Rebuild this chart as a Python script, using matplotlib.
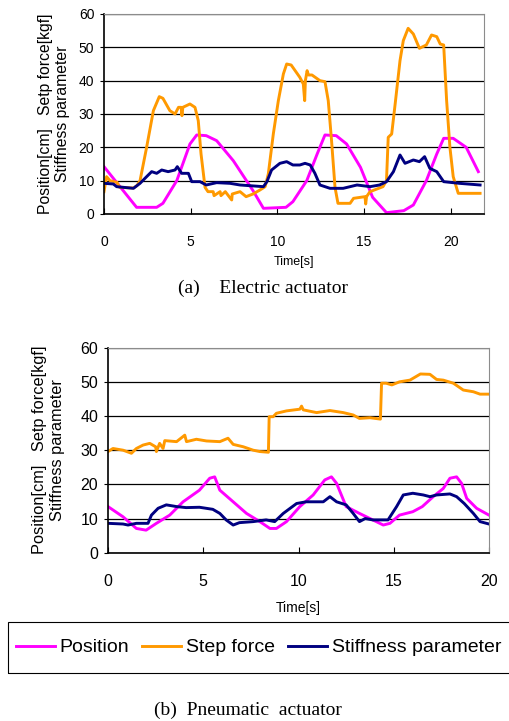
import matplotlib.pyplot as plt
from matplotlib.patches import Rectangle

# (a) Electric actuator
ea_pos_t = [0, 1.88, 3.04, 3.4, 4.2, 4.96, 5.35, 5.9, 6.5, 7.46, 8.6, 9.2, 10.5, 10.9, 11.7,
            12.3, 12.75, 13.4, 14.0, 14.8, 15.5, 16.3, 17.3, 17.85, 18.6, 19.2, 19.6, 20.15,
            20.9, 21.6]
ea_pos_v = [14.2, 2.0, 2.0, 3.2, 10, 21, 23.7, 23.5, 22, 16, 7, 1.7, 2.0, 3.7, 10,
            18, 23.7, 23.5, 21, 14, 5, 0.4, 1.0, 2.7, 10, 18, 22.7, 22.7,
            20, 12.7]

ea_force_t = [0, 0.15, 0.35, 0.75, 0.9, 1.7, 1.9, 2.08, 2.46, 2.85, 3.19, 3.4, 3.8, 4.1, 4.3,
              4.45, 4.5, 4.55, 4.96, 5.25, 5.44, 5.6, 5.83, 6.0, 6.3, 6.35, 6.7, 6.75, 7.0,
              7.37, 7.4, 7.85, 8.2, 8.6, 9.0, 9.3, 9.48, 9.77, 10.06, 10.35, 10.54, 10.8,
              11.3, 11.5, 11.58, 11.62, 11.72, 11.8, 12.0, 12.46, 12.75, 12.94, 13.13,
              13.33, 13.5, 14.2, 14.4, 15.06, 15.1, 15.15, 15.35, 16.1, 16.3, 16.4, 16.6,
              16.8, 17.08, 17.27, 17.55, 17.85, 18.2, 18.6, 18.9, 19.2, 19.4, 19.6, 19.77,
              19.96, 20.15, 20.44, 21.7]
ea_force_v = [6.7, 11.2, 10, 9.5, 8.0, 7.8, 8.5, 10, 20, 31, 35.2, 34.7, 31, 30, 32,
              32, 29.5, 32, 33, 32, 28, 18, 8, 6.7, 6.7, 5.5, 6.7, 5.5, 6.7,
              4.2, 6.0, 6.7, 5.2, 6, 7.2, 8.2, 12, 24, 34, 42, 45, 44.7,
              41, 39, 34, 40, 43, 41.7, 41.7, 40, 39.7, 34, 22,
              8, 3.2, 3.2, 4.7, 5.2, 3, 5.2, 6.7, 8.2, 10, 23, 24,
              33, 46, 52, 55.7, 54, 49.7, 50.7, 53.7, 53.2, 51, 50.7, 34,
              20, 11.2, 6.2, 6.2]

ea_stiff_t = [0, 0.54, 0.73, 1.7, 2.08, 2.46, 2.75, 3.04, 3.33, 3.7, 4.1, 4.23, 4.48, 4.87,
              5.06, 5.54, 5.9, 6.5, 7.27, 7.85, 9.2, 9.4, 9.67, 10.15, 10.54, 10.9, 11.3,
              11.6, 11.9, 12.17, 12.46, 13.04, 13.8, 14.6, 15.35, 15.9, 16.3, 16.7, 17.08,
              17.37, 17.85, 18.2, 18.5, 18.8, 19.2, 19.6, 20.5, 21.7]
ea_stiff_v = [9.2, 9.0, 8.2, 7.7, 9.2, 11.2, 12.7, 12.2, 13.2, 12.7, 13.2, 14.2, 12.2, 12.2,
              9.7, 9.7, 8.7, 9.4, 9.2, 8.7, 8.2, 9.7, 13.2, 15.2, 15.7, 14.7, 14.7,
              15.2, 14.7, 12.2, 8.7, 7.7, 7.7, 8.7, 8.2, 8.7, 9.7, 12.7, 17.7,
              15.2, 16.2, 15.7, 17.2, 13.7, 12.7, 9.7, 9.2, 8.7]

# (b) Pneumatic actuator
pa_pos_t = [0, 0.79, 1.49, 2.0, 2.54, 3.24, 3.94, 4.8, 5.34, 5.6, 5.87, 6.57, 7.27, 7.97,
            8.5, 8.84, 9.37, 10.07, 10.77, 11.38, 11.73, 12.0, 12.5, 13.2, 13.9, 14.45,
            14.8, 15.3, 16.0, 16.5, 17.07, 17.6, 17.95, 18.3, 18.56, 18.83, 19.35, 20.0]
pa_pos_v = [13.5, 10.5, 7.1, 6.6, 8.6, 11, 14.9, 18.3, 21.8, 22.2, 18.3, 14.9, 11.5, 9.1,
            7.1, 7.1, 9.1, 13.5, 16.9, 21.3, 22.2, 20.3, 13.5, 11.5, 9.6, 8.1,
            8.6, 11, 12, 13.5, 16.4, 18.8, 21.8, 22.2, 20.3, 15.9, 13, 11]

pa_force_t = [0, 0.26, 0.79, 1.23, 1.49, 1.84, 2.19, 2.5, 2.54, 2.71, 2.89, 2.98, 3.6, 4.03,
              4.12, 4.64, 5.17, 5.87, 6.3, 6.57, 7.1, 7.62, 7.97, 8.42, 8.46, 8.67, 8.84,
              9.37, 10.07, 10.16, 10.25, 10.95, 11.65, 12.35, 12.87, 13.2, 13.75, 14.3,
              14.36, 14.6, 14.9, 15.3, 15.85, 16.4, 16.9, 17.25, 17.6, 18.13, 18.65,
              19.18, 19.53, 20.0]
pa_force_v = [29.6, 30.5, 30, 29.1, 30.5, 31.5, 32, 31, 29.6, 32, 30.5, 32.8, 32.5, 34.4,
              32.5, 33.2, 32.7, 32.5, 33.5, 31.7, 31, 30, 29.6, 29.4, 39.8, 39.8, 40.8,
              41.5, 42, 42.9, 41.8, 41, 41.6, 41, 40.3, 39.3, 39.5, 39.1,
              49.6, 49.6, 49.1, 50, 50.5, 52.3, 52.2, 50.7, 50.5, 49.6, 47.6,
              47.1, 46.4, 46.4]

pa_stiff_t = [0, 0.79, 1.05, 1.49, 2.1, 2.28, 2.63, 3.06, 3.6, 4.1, 4.8, 5.5, 5.87, 6.2,
              6.57, 6.9, 7.62, 8.3, 8.75, 9.2, 9.9, 10.4, 11.3, 11.65, 12.0, 12.5, 12.87,
              13.2, 13.5, 13.9, 14.7, 15.15, 15.5, 16.0, 16.55, 16.9, 17.25, 17.95, 18.3,
              18.7, 19.18, 19.53, 20.0]
pa_stiff_v = [8.6, 8.4, 8.1, 8.6, 8.6, 11, 13, 14, 13.5, 13.2, 13.3, 12.7, 11.5, 9.6,
              8.1, 8.8, 9.1, 9.6, 9.1, 11.5, 14.4, 14.9, 14.9, 16.4, 14.9, 14, 11.5,
              9.1, 10, 9.6, 9.6, 13.5, 16.9, 17.4, 16.9, 16.4, 16.9, 17.2, 16.4,
              14.4, 11.5, 9.1, 8.4]

MAGENTA = '#ff00ff'
ORANGE = '#ff9900'
NAVY = '#000080'
LW = 2.1
ylabel = 'Position[cm]   Setp force[kgf]\nStiffness parameter'

plt.rcParams['font.family'] = ['Liberation Sans', 'DejaVu Sans']

fig = plt.figure(figsize=(5.09, 7.21), dpi=100)


def style_axes(ax, xmax, tick_size, label_size, ylab_size, ylab_sp, ylab_x, xlab_y):
    ax.set_xlim(0, xmax)
    ax.set_ylim(0, 60)
    ax.set_xticks([0, 5, 10, 15, 20])
    ax.set_yticks(range(0, 61, 10))
    ax.grid(axis='y', color='black', linewidth=0.9)
    ax.set_axisbelow(True)
    for s in ['top', 'right']:
        ax.spines[s].set_color('#8c8c8c')
    for s in ['left', 'bottom']:
        ax.spines[s].set_color('black')
        ax.spines[s].set_linewidth(1.2)
    ax.tick_params(axis='y', direction='out', length=3, labelsize=tick_size, pad=4)
    ax.tick_params(axis='x', direction='in', length=4, labelsize=tick_size, pad=15)
    ax.set_ylabel(ylabel, fontsize=ylab_size, va='center', ha='center', linespacing=ylab_sp)
    ax.yaxis.set_label_coords(ylab_x, 0.5)
    ax.set_xlabel('Time[s]', fontsize=label_size)
    ax.xaxis.set_label_coords(0.5, xlab_y)


ax1 = fig.add_axes([0.2043, 0.7032, 0.7467, 0.2774])
ax1.plot(ea_pos_t, ea_pos_v, color=MAGENTA, lw=LW)
ax1.plot(ea_force_t, ea_force_v, color=ORANGE, lw=LW)
ax1.plot(ea_stiff_t, ea_stiff_v, color=NAVY, lw=LW)
style_axes(ax1, 21.93, 10, 9, 11.3, 1.15, -0.132, -0.21)

ax2 = fig.add_axes([0.2122, 0.2334, 0.7485, 0.2844])
ax2.plot(pa_pos_t, pa_pos_v, color=MAGENTA, lw=LW, label='Position')
ax2.plot(pa_force_t, pa_force_v, color=ORANGE, lw=LW, label='Step force')
ax2.plot(pa_stiff_t, pa_stiff_v, color=NAVY, lw=LW, label='Stiffness parameter')
style_axes(ax2, 20, 11.5, 10, 11.8, 1.22, -0.157, -0.235)

leg = fig.legend(loc='center left', bbox_to_anchor=(8 / 509, 1 - 647.5 / 721), ncol=3,
                 fontsize=14, frameon=False, handlelength=2.0,
                 handletextpad=0.26, columnspacing=0.67, borderpad=0.4, borderaxespad=0)
fig.patches.append(Rectangle((8 / 509, 1 - 673 / 721), 520 / 509, 51 / 721,
                             transform=fig.transFigure, fill=False,
                             edgecolor='black', linewidth=0.8))

fig.text(263 / 509, 1 - 288 / 721, '(a)    Electric actuator', ha='center', va='center',
         fontsize=14, family='Liberation Serif')
fig.text(248 / 509, 1 - 710 / 721, '(b)  Pneumatic  actuator', ha='center', va='center',
         fontsize=14, family='Liberation Serif')

fig.savefig('out.png', dpi=100)
